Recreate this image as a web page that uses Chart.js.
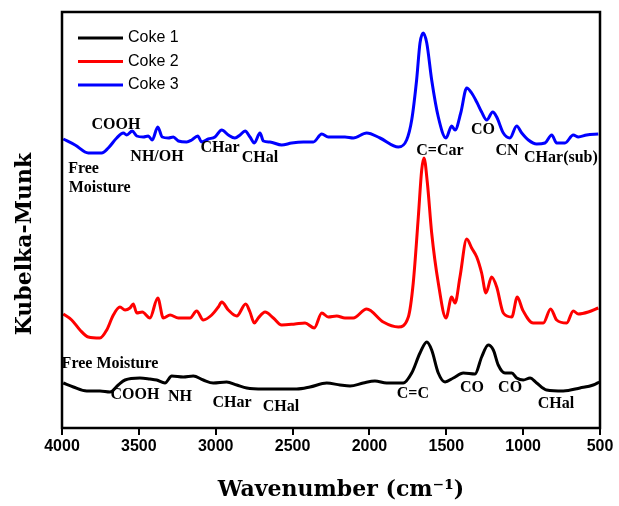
<!DOCTYPE html>
<html>
<head>
<meta charset="utf-8">
<script src="https://cdn.jsdelivr.net/npm/chart.js@4.4.0/dist/chart.umd.min.js"></script>
<style>
  body { margin: 0; background: #fff; }
</style>
</head>
<body>
<canvas id="grafica" width="619" height="506"></canvas>
<script>
var series = ["Coke 1", "Coke 2", "Coke 3"];
var colores = ["#000000", "#ff0000", "#0000ff"];
var ticksX = [4000, 3500, 3000, 2500, 2000, 1500, 1000, 500];
var tituloX = "Wavenumber (cm\u207B\u00B9)";
var tituloY = "Kubelka-Munk";

var coke1Wn = [3992, 3926, 3839, 3753, 3688, 3634, 3590, 3493, 3428, 3384, 3330, 3286, 3211, 3146, 3081, 3016, 2929, 2863, 2798, 2690, 2560, 2473, 2387, 2278, 2191, 2126, 2040, 1964, 1888, 1780, 1725, 1671, 1627, 1595, 1552, 1508, 1454, 1389, 1313, 1270, 1227, 1194, 1162, 1118, 1074, 1042, 999, 955, 912, 847, 739, 630, 544, 505];
var coke1Km = [45, 41, 37, 37, 36, 43, 48, 50, 49, 48, 45, 52, 51, 52, 48, 45, 46, 43, 40, 39, 39, 39, 41, 45, 43, 42, 45, 47, 45, 45, 55, 75, 86, 78, 55, 46, 50, 55, 54, 71, 83, 78, 63, 55, 55, 50, 48, 50, 45, 38, 37, 40, 43, 46];

var coke2Wn = [3992, 3937, 3883, 3829, 3753, 3709, 3666, 3623, 3590, 3558, 3536, 3514, 3478, 3428, 3377, 3341, 3297, 3243, 3167, 3124, 3081, 3026, 2983, 2961, 2918, 2863, 2805, 2777, 2749, 2723, 2679, 2625, 2571, 2484, 2419, 2359, 2310, 2268, 2213, 2159, 2105, 2018, 1910, 1812, 1747, 1715, 1682, 1660, 1645, 1623, 1595, 1552, 1502, 1465, 1443, 1411, 1367, 1335, 1302, 1270, 1242, 1205, 1172, 1129, 1074, 1038, 1003, 934, 869, 821, 782, 717, 674, 641, 576, 511];
var coke2Km = [114, 108, 98, 91, 90, 98, 113, 121, 118, 120, 124, 115, 116, 110, 130, 110, 113, 110, 110, 117, 108, 113, 121, 126, 118, 112, 124, 116, 105, 110, 116, 110, 103, 104, 105, 100, 115, 111, 112, 110, 110, 119, 106, 101, 111, 145, 211, 258, 270, 245, 195, 145, 110, 131, 125, 151, 189, 180, 171, 155, 135, 151, 141, 115, 111, 131, 118, 105, 105, 119, 108, 105, 117, 114, 116, 120];

var coke3Wn = [3992, 3915, 3829, 3742, 3699, 3644, 3601, 3579, 3543, 3514, 3471, 3439, 3413, 3377, 3348, 3308, 3276, 3243, 3189, 3156, 3117, 3091, 3048, 3005, 2961, 2918, 2875, 2842, 2809, 2777, 2749, 2712, 2690, 2647, 2571, 2506, 2430, 2365, 2310, 2268, 2213, 2159, 2105, 2018, 1931, 1812, 1758, 1725, 1693, 1671, 1650, 1627, 1595, 1552, 1502, 1465, 1443, 1406, 1367, 1335, 1302, 1270, 1237, 1198, 1172, 1129, 1086, 1042, 1009, 966, 912, 858, 814, 782, 728, 674, 641, 587, 511];
var coke3Km = [289, 283, 275, 275, 280, 290, 295, 293, 297, 292, 291, 292, 288, 301, 291, 290, 291, 287, 286, 288, 292, 286, 289, 291, 298, 293, 290, 293, 297, 291, 285, 295, 287, 286, 283, 285, 286, 286, 294, 291, 291, 291, 290, 295, 290, 281, 288, 308, 348, 385, 395, 385, 348, 311, 290, 302, 298, 315, 340, 335, 326, 316, 308, 316, 311, 295, 290, 302, 295, 288, 284, 285, 293, 285, 285, 293, 291, 293, 294];

// Etiquetas de bandas (texto, numero de onda, intensidad)
var notaTexto = ["COOH", "Free", "Moisture", "NH/OH", "CHar", "CHal", "C=Car", "CO", "CN", "CHar(sub)",
                 "Free Moisture", "COOH", "NH", "CHar", "CHal", "C=C", "CO", "CO", "CHal"];
var notaWn = [3649, 3860, 3755, 3382, 2972, 2712, 1541, 1261, 1105, 754,
              3688, 3525, 3232, 2894, 2575, 1717, 1333, 1085, 786];
var notaKm = [303, 259, 240, 271, 280, 270, 277, 298, 277, 270,
              64, 33, 31, 25, 21, 34, 40, 40, 24];

function puntos(xs, ys) {
  var lista = [];
  for (let i = 0; i < xs.length; i++) {
    lista.push({ x: xs[i], y: ys[i] });
  }
  return lista;
}

// Marco negro alrededor del area de la grafica
var marco = {
  id: "marco",
  afterDraw: function (chart) {
    var a = chart.chartArea;
    var c = chart.ctx;
    c.save();
    c.strokeStyle = "#000";
    c.lineWidth = 2.5;
    c.strokeRect(a.left, a.top, a.right - a.left, a.bottom - a.top);
    c.restore();
  }
};

// Titulos de los ejes
var titulos = {
  id: "titulos",
  afterDraw: function (chart) {
    var a = chart.chartArea;
    var c = chart.ctx;
    c.save();
    c.fillStyle = "#000";
    c.font = "bold 22px 'DejaVu Serif', serif";
    c.textAlign = "center";
    c.textBaseline = "middle";
    c.fillText(tituloX, (a.left + a.right) / 2 + 10, a.bottom + 62);
    c.translate(a.left - 37, (a.top + a.bottom) / 2 + 24);
    c.rotate(-Math.PI / 2);
    c.fillText(tituloY, 0, 0);
    c.restore();
  }
};

// Leyenda dentro del area, arriba a la izquierda
var leyenda = {
  id: "leyenda",
  afterDraw: function (chart) {
    var a = chart.chartArea;
    var c = chart.ctx;
    c.save();
    c.font = "16px 'Liberation Sans', Arial, sans-serif";
    c.textBaseline = "middle";
    c.fillStyle = "#000";
    chart.data.datasets.forEach(function (ds, i) {
      var y = a.top + 26 + i * 23.5;
      c.strokeStyle = ds.borderColor;
      c.lineWidth = 3;
      c.beginPath();
      c.moveTo(a.left + 16, y);
      c.lineTo(a.left + 61, y);
      c.stroke();
      c.fillText(ds.label, a.left + 66, y);
    });
    c.restore();
  }
};

// Etiquetas de las bandas
var notas = {
  id: "notas",
  afterDraw: function (chart) {
    var sx = chart.scales.x, sy = chart.scales.y;
    var c = chart.ctx;
    c.save();
    c.font = "bold 16px 'Liberation Serif', 'Times New Roman', serif";
    c.textAlign = "center";
    c.textBaseline = "middle";
    c.fillStyle = "#000";
    for (let i = 0; i < notaTexto.length; i++) {
      c.fillText(notaTexto[i], sx.getPixelForValue(notaWn[i]), sy.getPixelForValue(notaKm[i]));
    }
    c.restore();
  }
};

var datos = [puntos(coke1Wn, coke1Km), puntos(coke2Wn, coke2Km), puntos(coke3Wn, coke3Km)];
var conjuntos = [];
for (let i = 0; i < series.length; i++) {
  conjuntos.push({
    label: series[i],
    data: datos[i],
    borderColor: colores[i],
    borderWidth: 3,
    pointRadius: 0,
    fill: false,
    cubicInterpolationMode: "monotone"
  });
}

var ctx = document.getElementById("grafica").getContext("2d");
var grafica = new Chart(ctx, {
  type: "line",
  data: { datasets: conjuntos },
  options: {
    responsive: false,
    animation: false,
    layout: { padding: { top: 12, right: 19, left: 0, bottom: 0 } },
    plugins: { legend: { display: false }, tooltip: { enabled: false } },
    scales: {
      x: {
        type: "linear",
        reverse: true,
        min: 500,
        max: 4000,
        afterBuildTicks: function (s) {
          s.ticks = ticksX.map(function (v) { return { value: v }; });
        },
        ticks: {
          color: "#000",
          padding: 2,
          maxRotation: 0,
          font: { family: "'Liberation Sans', Arial, sans-serif", size: 16, weight: "bold" },
          callback: function (v) { return String(v); }
        },
        grid: { drawOnChartArea: false, color: "#000", lineWidth: 2, tickLength: 7 },
        border: { display: false },
        afterFit: function (s) { s.height = 78; }
      },
      y: {
        min: 0,
        max: 416,
        ticks: { display: false },
        grid: { display: false },
        border: { display: false },
        afterFit: function (s) { s.width = 62; }
      }
    }
  },
  plugins: [marco, leyenda, notas, titulos]
});
</script>
</body>
</html>
